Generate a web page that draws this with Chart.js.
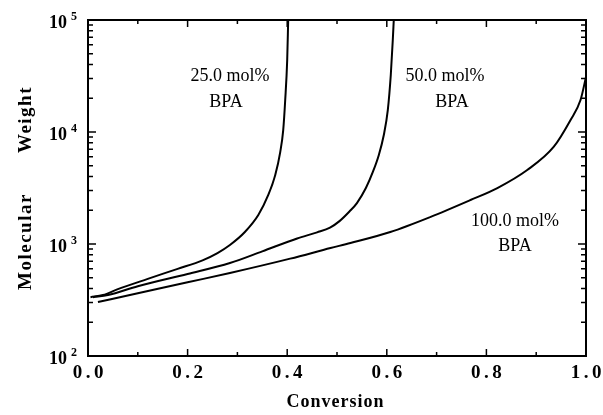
<!DOCTYPE html>
<html lang="en">
<head>
    <meta charset="UTF-8">
    <title>Molecular Weight vs Conversion</title>
    <style>
        body { margin: 0; background: #fff; }
        .chart-wrap { position: relative; width: 603px; height: 415px; }
    </style>
    <script src="https://cdn.jsdelivr.net/npm/chart.js@4.4.0/dist/chart.umd.min.js"></script>
</head>
<body>
<div class="chart-wrap">
    <canvas id="mwChart"></canvas>
</div>

<script>
    // Conversion / molecular weight series for each BPA level
    const conv25 = [0.005, 0.03, 0.06, 0.12, 0.18, 0.23, 0.26, 0.285, 0.315, 0.342, 0.362, 0.376, 0.386, 0.392, 0.396, 0.400, 0.402];
    const mw25   = [335, 350, 395, 488, 600, 715, 830, 980, 1280, 1815, 2740, 4130, 6620, 10400, 19300, 44000, 100000];

    const conv50 = [0.01, 0.04, 0.1, 0.2, 0.285, 0.35, 0.42, 0.46, 0.486, 0.505, 0.525, 0.540, 0.558, 0.572, 0.584, 0.594, 0.602, 0.608, 0.612, 0.614];
    const mw50   = [335, 350, 420, 540, 676, 860, 1120, 1270, 1400, 1600, 1950, 2320, 3160, 4400, 6240, 9400, 15700, 32300, 66000, 100000];

    const conv100 = [0.02, 0.1, 0.2, 0.285, 0.406, 0.487, 0.527, 0.607, 0.687, 0.768, 0.822, 0.882, 0.935, 0.969, 0.989, 1.0];
    const mw100   = [303, 363, 455, 551, 740, 920, 1020, 1280, 1740, 2470, 3160, 4580, 7350, 12800, 19300, 31000];

    const xTickValues = [0, 0.2, 0.4, 0.6, 0.8, 1.0];
    const xTickLabels = ['0.0', '0.2', '0.4', '0.6', '0.8', '1.0'];
    const yDecades = [2, 3, 4, 5];

    const SERIF = '"Liberation Serif", "Times New Roman", serif';

    function toPoints(xs, ys) {
        return xs.map((x, i) => ({ x: x, y: ys[i] }));
    }

    // draw a string one glyph at a time with extra spacing, centred on cx
    function spacedText(ctx, str, cx, y, gap) {
        const widths = [...str].map(c => ctx.measureText(c).width);
        const total = widths.reduce((a, b) => a + b, 0) + gap * (str.length - 1);
        let x = cx - total / 2;
        ctx.textAlign = 'left';
        [...str].forEach((c, i) => {
            ctx.fillText(c, x, y);
            x += widths[i] + gap;
        });
    }

    const framePlugin = {
        id: 'frame',
        afterDraw(chart) {
            const ctx = chart.ctx;
            const a = chart.chartArea;
            const xs = chart.scales.x;
            const ys = chart.scales.y;
            ctx.save();
            ctx.strokeStyle = '#000';
            ctx.fillStyle = '#000';

            // axis box
            ctx.lineWidth = 2;
            ctx.strokeRect(a.left, a.top, a.right - a.left, a.bottom - a.top);

            // x ticks, inward, bottom and top
            ctx.lineWidth = 1.5;
            for (let i = 1; i < 10; i++) {
                const px = xs.getPixelForValue(i / 10);
                const len = (i % 2 === 0) ? 7 : 4;
                ctx.beginPath();
                ctx.moveTo(px, a.bottom); ctx.lineTo(px, a.bottom - len);
                ctx.moveTo(px, a.top); ctx.lineTo(px, a.top + len);
                ctx.stroke();
            }

            // log y ticks, inward, left and right
            for (let d = 2; d < 5; d++) {
                for (let m = 1; m < 10; m++) {
                    if (d === 2 && m === 1) continue;
                    const py = ys.getPixelForValue(m * Math.pow(10, d));
                    const len = (m === 1) ? 8 : 5;
                    ctx.beginPath();
                    ctx.moveTo(a.left, py); ctx.lineTo(a.left + len, py);
                    ctx.moveTo(a.right, py); ctx.lineTo(a.right - len, py);
                    ctx.stroke();
                }
            }

            // x tick labels
            ctx.font = 'bold 19px ' + SERIF;
            ctx.textBaseline = 'alphabetic';
            xTickValues.forEach((v, i) => {
                spacedText(ctx, xTickLabels[i], xs.getPixelForValue(v), a.bottom + 22, 3.5);
            });

            // y tick labels as powers of ten
            yDecades.forEach(d => {
                const py = ys.getPixelForValue(Math.pow(10, d));
                ctx.font = 'bold 18px ' + SERIF;
                ctx.textAlign = 'right';
                ctx.fillText('10', 67, py + 8);
                ctx.font = 'bold 12px ' + SERIF;
                ctx.textAlign = 'left';
                ctx.fillText(String(d), 71, py);
            });

            // axis titles
            ctx.font = 'bold 18px ' + SERIF;
            spacedText(ctx, 'Conversion', (a.left + a.right) / 2 - 2, 407, 1);

            ctx.save();
            ctx.font = 'bold 19px ' + SERIF;
            ctx.translate(31, 0);
            ctx.rotate(-Math.PI / 2);
            ctx.textAlign = 'left';
            ctx.letterSpacing = '1.5px';
            ctx.fillText('Molecular', -290, 0);
            const wWidth = ctx.measureText('Weight').width;
            ctx.fillText('Weight', -86 - wWidth, 0);
            ctx.restore();

            // curve labels
            ctx.font = '18px ' + SERIF;
            ctx.textAlign = 'center';
            ctx.fillText('25.0 mol%', 230, 81);
            ctx.fillText('BPA', 226, 107);
            ctx.fillText('50.0 mol%', 445, 81);
            ctx.fillText('BPA', 452, 107);
            ctx.fillText('100.0 mol%', 515, 226);
            ctx.fillText('BPA', 515, 251);

            ctx.restore();
        }
    };

    const lineStyle = {
        borderColor: '#000',
        borderWidth: 2,
        pointRadius: 0,
        fill: false,
        cubicInterpolationMode: 'monotone'
    };

    new Chart(document.getElementById('mwChart'), {
        type: 'line',
        data: {
            datasets: [
                Object.assign({ label: '25.0 mol% BPA', data: toPoints(conv25, mw25) }, lineStyle),
                Object.assign({ label: '50.0 mol% BPA', data: toPoints(conv50, mw50) }, lineStyle),
                Object.assign({ label: '100.0 mol% BPA', data: toPoints(conv100, mw100) }, lineStyle)
            ]
        },
        options: {
            responsive: true,
            maintainAspectRatio: false,
            animation: false,
            layout: { padding: { top: 20, right: 17, left: 0, bottom: 0 } },
            scales: {
                x: {
                    type: 'linear', min: 0, max: 1,
                    ticks: { display: false },
                    grid: { display: false },
                    border: { display: false },
                    afterFit(s) { s.height = 59; }
                },
                y: {
                    type: 'logarithmic', min: 100, max: 100000,
                    ticks: { display: false },
                    grid: { display: false },
                    border: { display: false },
                    afterFit(s) { s.width = 88; }
                }
            },
            plugins: {
                legend: { display: false },
                tooltip: { enabled: false }
            }
        },
        plugins: [framePlugin]
    });
</script>
</body>
</html>
